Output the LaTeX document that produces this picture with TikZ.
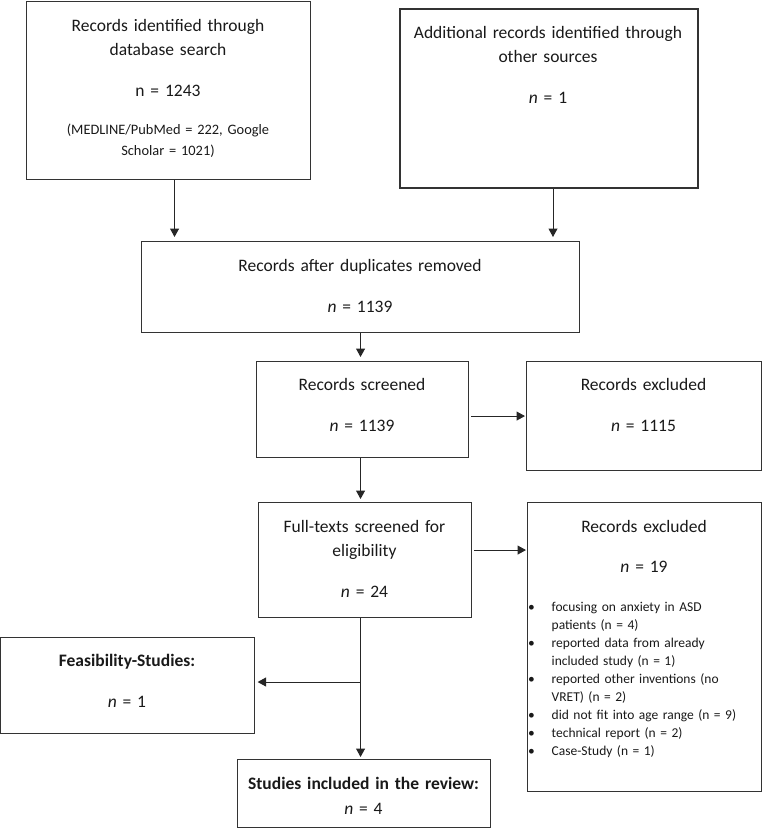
\documentclass[tikz,border=0pt]{standalone}
\usepackage{fontspec}
\setmainfont{Carlito}
\usetikzlibrary{arrows.meta,positioning}

\begin{document}
\begin{tikzpicture}[
    x=1pt, y=-1pt,
    box/.style={draw=black!80, line width=1.1pt, inner sep=0pt, anchor=north west},
    heavybox/.style={box, line width=2pt},
    txt/.style={inner sep=0pt, anchor=base, align=center, text width=300pt, text=black!90, font=\fontsize{17.5}{24.5}\selectfont},
    smalltxt/.style={txt, font=\fontsize{14.4}{21}\selectfont},
    bullets/.style={inner sep=0pt, anchor=base west, align=left, text width=228pt, text=black!90, font=\fontsize{13.5}{18.1}\selectfont},
    arrow/.style={draw=black!85, line width=1pt, -{Triangle[length=8.5pt,width=9pt]}}
]
\useasboundingbox (0,0) rectangle (763,828);

% Boxes
\node[box, minimum width=284pt, minimum height=178pt] (ident) at (26,1) {};
\node[heavybox, minimum width=298pt, minimum height=179pt] (other) at (399,8) {};
\node[box, minimum width=438pt, minimum height=91pt] (dupl) at (141,241) {};
\node[box, minimum width=212pt, minimum height=96pt] (screen) at (256,361) {};
\node[box, minimum width=235pt, minimum height=109pt] (excl1) at (526,361) {};
\node[box, minimum width=213pt, minimum height=115pt] (full) at (258,502) {};
\node[box, minimum width=234pt, minimum height=289pt] (excl2) at (527,502) {};
\node[box, minimum width=254pt, minimum height=96pt] (feas) at (0,637) {};
\node[box, minimum width=253pt, minimum height=68pt] (incl) at (237,759) {};

% Texts
\node[txt] (ident-t) at (168,31) {Records identified through\\database search};
\node[txt] (ident-n) at (168,96) {n = 1243};
\node[smalltxt] (ident-s) at (168,134) {(MEDLINE/PubMed = 222, Google\\Scholar = 1021)};

\node[txt] (other-t) at (548,38) {Additional records identified through\\other sources};
\node[txt] (other-n) at (548,103) {\textit{n} = 1};

\node[txt] (dupl-t) at (360,271) {Records after duplicates removed};
\node[txt] (dupl-n) at (360,312) {\textit{n} = 1139};

\node[txt] (screen-t) at (362,390) {Records screened};
\node[txt] (screen-n) at (362,431) {\textit{n} = 1139};

\node[txt] (excl1-t) at (643.5,390) {Records excluded};
\node[txt] (excl1-n) at (643.5,431) {\textit{n} = 1115};

\node[txt] (full-t) at (364.5,532) {Full-texts screened for\\eligibility};
\node[txt] (full-n) at (364.5,597) {\textit{n} = 24};

\node[txt] (excl2-t) at (644,532) {Records excluded};
\node[txt] (excl2-n) at (644,572) {\textit{n} = 19};
\node[bullets] (excl2-l) at (528,611) {%
    \makebox[23.5pt][l]{•}focusing on anxiety in ASD\\
    \hspace*{23.5pt}patients (n = 4)\\
    \makebox[23.5pt][l]{•}reported data from already\\
    \hspace*{23.5pt}included study (n = 1)\\
    \makebox[23.5pt][l]{•}reported other inventions (no\\
    \hspace*{23.5pt}VRET) (n = 2)\\
    \makebox[23.5pt][l]{•}did not fit into age range (n = 9)\\
    \makebox[23.5pt][l]{•}technical report (n = 2)\\
    \makebox[23.5pt][l]{•}Case-Study (n = 1)};

\node[txt] (feas-t) at (127,666) {\textbf{Feasibility-Studies:}};
\node[txt] (feas-n) at (127,707) {\textit{n} = 1};

\node[txt] (incl-t) at (363.5,789) {\textbf{Studies included in the review:}};
\node[txt] (incl-n) at (363.5,814) {\textit{n} = 4};

% Connectors
\coordinate (split) at (360,682);
\draw[arrow, shorten >=4pt] ([xshift=6pt]ident.south) -- ([xshift=6pt]ident.south |- dupl.north);
\draw[arrow, shorten >=4pt] ([xshift=4pt]other.south) -- ([xshift=4pt]other.south |- dupl.north);
\draw[arrow, shorten >=4pt] (dupl.south) -- (dupl.south |- screen.north);
\draw[arrow, shorten <=2pt, shorten >=1pt] (excl1.west -| screen.east) -- (excl1.west);
\draw[arrow, shorten >=3pt] (screen.south -| dupl.south) -- (full.north -| dupl.south);
\draw[arrow, shorten <=2pt, shorten >=1pt] ([yshift=10pt]full.east) -- ([yshift=10pt]full.east -| excl2.west);
\draw[arrow, shorten >=2pt] (full.south -| dupl.south) -- (incl.north -| dupl.south);
\draw[arrow, shorten >=2.5pt] (split) -- (split -| feas.east);

\end{tikzpicture}
\end{document}
